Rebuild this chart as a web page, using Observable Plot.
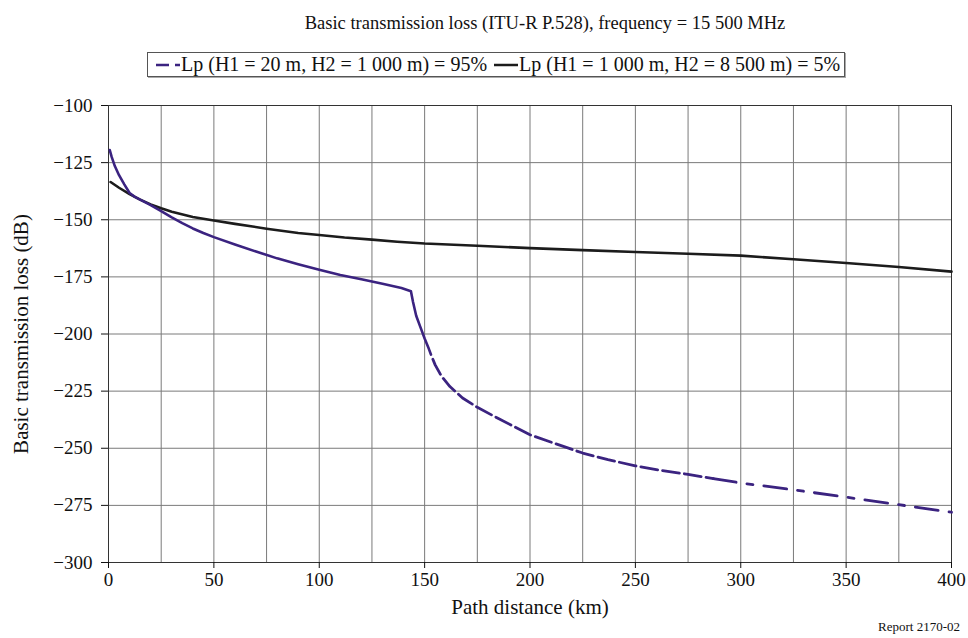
<!DOCTYPE html>
<html>
<head>
<meta charset="utf-8">
<script src="https://cdn.jsdelivr.net/npm/d3@7"></script>
<script src="https://cdn.jsdelivr.net/npm/@observablehq/plot@0.6"></script>
<style>
  body { margin: 0; background: #fff; font-family: "Liberation Serif", "Times New Roman", serif; color: #111; }
  #wrap { position: relative; width: 968px; height: 638px; overflow: hidden; }
  #title { position: absolute; top: 13px; left: 285px; width: 520px; text-align: center; font-size: 18.5px; line-height: 21px; white-space: nowrap; }
  #legend { position: absolute; top: 52px; left: 147px; border: 1px solid #555; box-shadow: 1px 1px 0 #aaa;
            padding: 0 4px 0 8px; height: 23px; font-size: 20px; line-height: 23px; display: flex; align-items: center; white-space: nowrap; }
  #legend .item { display: flex; align-items: center; margin-right: 7px; }
  #legend .item:last-child { margin-right: 0; }
  #chart { position: absolute; top: 80px; left: 0; }
  #chart svg, #chart svg text { font-family: "Liberation Serif", "Times New Roman", serif !important; fill: #111; }
  #caption { position: absolute; right: 8px; top: 619px; font-size: 13px; }
</style>
</head>
<body>
<div id="wrap">
  <div id="title">Basic transmission loss (ITU-R P.528), frequency = 15 500 MHz</div>
  <div id="legend"></div>
  <div id="chart"></div>
  <div id="caption">Report 2170-02</div>
</div>
<script>
// Lp (H1 = 20 m, H2 = 1 000 m), 95% of time
const dist95 = [0.6, 1.5, 3, 5, 7.5, 10, 12.5, 15, 20, 25, 30, 35, 40, 45, 50, 60, 70, 80, 90, 100,
                110, 120, 130, 139, 143.5, 144.5, 146, 148, 150, 152, 153, 155, 158, 162, 168, 175,
                185, 200, 212, 225, 237, 250, 262, 275, 287, 300, 325, 350, 375, 400];
const loss95 = [-119.5, -122.5, -126.5, -130.5, -134.5, -138.3, -140, -141.2, -143.6, -146.2, -149, -151.5, -153.8, -155.8, -157.6, -160.8, -163.9, -166.9, -169.5, -171.9,
                -174.2, -176, -178, -179.9, -181.3, -186, -192, -197, -202, -206.5, -209, -213.5, -218.5, -223, -228, -232.1,
                -237, -244.1, -248, -252.1, -255, -257.7, -259.7, -261.4, -263.3, -265.2, -268.2, -271.4, -274.7, -278];

// Lp (H1 = 1 000 m, H2 = 8 500 m), 5% of time
const dist5 = [1, 5, 10, 15, 20, 25, 30, 40, 50, 60, 75, 90, 100, 112, 125, 137, 150, 175,
               200, 225, 250, 275, 300, 325, 350, 375, 400];
const loss5 = [-133.5, -136, -138.8, -141.2, -143.3, -145, -146.5, -148.8, -150.3, -151.8, -153.9, -155.8, -156.7, -157.8, -158.7, -159.6, -160.4, -161.4,
               -162.4, -163.3, -164.1, -164.9, -165.7, -167.3, -168.9, -170.7, -172.7];

const seriesNames = ["Lp (H1 = 20 m, H2 = 1 000 m) = 95%", "Lp (H1 = 1 000 m, H2 = 8 500 m) = 5%"];
const xTitle = "Path distance (km)";
const yTitle = "Basic transmission loss (dB)";

const distanceTicks = [0, 50, 100, 150, 200, 250, 300, 350, 400];
const distanceGrid = [0, 25, 50, 75, 100, 125, 150, 175, 200, 225, 250, 275, 300, 325, 350, 375, 400];
const lossTicks = [-300, -275, -250, -225, -200, -175, -150, -125, -100];

const purple = "#3b2380";
const black = "#1c1c1c";

const p95 = dist95.map((km, i) => ({km, loss: loss95[i]}));
const p5 = dist5.map((km, i) => ({km, loss: loss5[i]}));

// The 95% curve is drawn solid up to the break, then short dashes, then long–short dashes in the tail.
const p95Near = p95.filter(d => d.km <= 153);
const p95Mid = p95.filter(d => d.km >= 153 && d.km <= 287);
const p95Far = p95.filter(d => d.km >= 287);

const minus = d => (d < 0 ? "\u2212" + Math.abs(d) : String(d));

const chart = Plot.plot({
  width: 968,
  height: 558,
  marginTop: 25,
  marginBottom: 76,
  marginLeft: 108,
  marginRight: 17,
  style: {background: "#fff"},
  x: {domain: [0, 400]},
  y: {domain: [-300, -100]},
  marks: [
    Plot.gridX(distanceGrid, {stroke: "#7a7a7a", strokeOpacity: 1, strokeWidth: 1}),
    Plot.gridY(lossTicks, {stroke: "#7a7a7a", strokeOpacity: 1, strokeWidth: 1}),
    Plot.frame({stroke: "#333", strokeWidth: 1}),
    Plot.axisX(distanceTicks, {tickSize: 6, tickPadding: 4, tickFormat: d => String(d), fontSize: 19, label: null}),
    Plot.axisY(lossTicks, {tickSize: 7, tickPadding: 9, tickFormat: minus, fontSize: 19, label: null}),
    Plot.text([xTitle], {frameAnchor: "bottom", dy: 45, fontSize: 21, lineAnchor: "middle", textAnchor: "middle"}),
    Plot.text([yTitle], {frameAnchor: "left", dx: -87, rotate: -90, fontSize: 21, lineAnchor: "middle", textAnchor: "middle"}),
    Plot.line(p5, {x: "km", y: "loss", stroke: black, strokeWidth: 2.6}),
    Plot.line(p95Near, {x: "km", y: "loss", stroke: purple, strokeWidth: 2.6}),
    Plot.line(p95Mid, {x: "km", y: "loss", stroke: purple, strokeWidth: 2.8, strokeDasharray: "17,5", strokeDashoffset: 17}),
    Plot.line(p95Far, {x: "km", y: "loss", stroke: purple, strokeWidth: 2.8, strokeDasharray: "23,11,6,11"})
  ]
});
document.getElementById("chart").appendChild(chart);

// Legend
const legend = document.getElementById("legend");
const swatches = [
  {color: purple, dash: "13,6,5,20"},
  {color: black, dash: null}
];
seriesNames.forEach((name, i) => {
  const item = document.createElement("span");
  item.className = "item";
  const s = swatches[i];
  item.innerHTML =
    `<svg width="25" height="10"><line x1="0" y1="5" x2="24" y2="5" stroke="${s.color}" stroke-width="2.5"` +
    (s.dash ? ` stroke-dasharray="${s.dash}"` : "") + `/></svg><span>${name}</span>`;
  legend.appendChild(item);
});
</script>
</body>
</html>
